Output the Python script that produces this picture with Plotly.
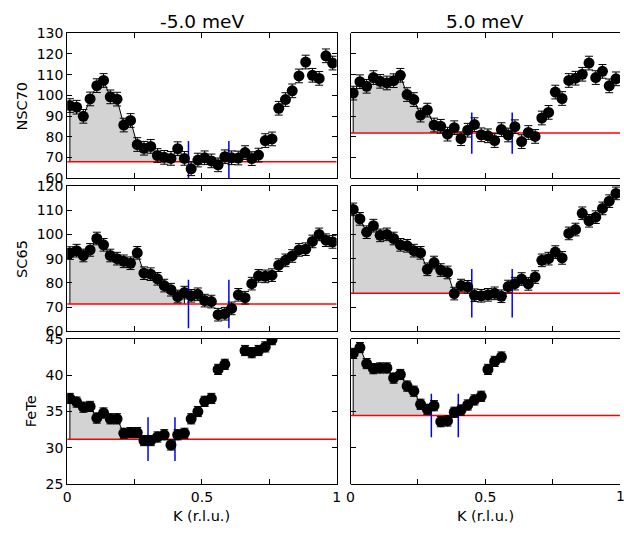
import plotly.graph_objects as go

# ---------------- data ----------------
K0 = 0.01
DK = 0.025

nsc70_m5 = [95.1, 94.3, 89.9, 98.3, 104.7, 107.2, 99.3, 98.2, 85.7, 87.9,
            76.3, 74.5, 75.4, 71.0, 70.1, 69.6, 74.3, 69.6, 64.6, 68.8,
            69.9, 68.4, 66.5, 70.4, 69.9, 69.8, 72.4, 69.5, 71.2, 78.2,
            79.0, 93.8, 98.0, 102.2, 109.4, 116.1, 109.7, 108.2, 119.1, 115.6]
nsc70_p5 = [101.1, 106.6, 104.4, 108.6, 106.8, 106.0, 107.1, 109.7, 100.4, 98.0,
            90.5, 92.9, 85.7, 85.1, 81.3, 84.4, 79.1, 83.2, 85.9, 81.0,
            80.5, 78.2, 83.5, 80.9, 84.9, 77.7, 82.1, 80.2, 89.1, 91.8,
            101.6, 98.5, 107.2, 108.3, 110.2, 115.6, 108.6, 111.6, 104.6, 108.0]
sc65_m5 = [92.3, 93.3, 91.3, 93.6, 98.3, 95.7, 91.3, 90.0, 88.9, 88.1,
           92.4, 84.0, 83.6, 81.7, 78.9, 77.2, 74.4, 76.0, 74.7, 75.3,
           72.7, 72.3, 66.9, 67.3, 69.5, 75.1, 73.9, 79.7, 82.9, 82.7,
           83.2, 87.3, 89.3, 91.1, 93.6, 93.9, 97.1, 100.0, 97.6, 96.9]
sc65_p5 = [110.3, 106.4, 100.9, 103.6, 99.6, 100.0, 98.3, 95.7, 95.3, 93.3,
           92.4, 85.6, 88.4, 85.3, 84.3, 75.6, 78.9, 78.4, 74.9, 74.7,
           75.1, 75.7, 74.5, 78.5, 79.7, 81.6, 79.6, 82.4, 89.3, 90.0,
           92.7, 90.3, 100.4, 102.0, 108.7, 105.6, 107.1, 110.7, 113.7, 116.9]
fete_m5 = [36.8, 36.3, 35.6, 35.7, 34.1, 34.8, 34.0, 34.0, 32.0, 32.1,
           32.1, 31.0, 31.0, 31.5, 31.8, 30.4, 31.8, 32.0, 34.0, 35.0,
           36.4, 36.8, 40.8, 41.5, None, None, 43.4, 43.1, 43.4, 43.9,
           44.9]
fete_p5 = [43.0, 43.8, 41.6, 40.9, 41.0, 41.0, 39.6, 40.1, 38.5, 37.8,
           36.0, 35.3, 35.8, 33.6, 33.7, 34.9, 35.2, 35.9, 36.6, 37.1,
           40.8, 41.9, 42.5]

errors = {"nsc70": 3.3, "sc65": 2.6, "fete": 0.7}

baselines = {("nsc70", 0): 68.0, ("nsc70", 1): 81.8,
             ("sc65", 0): 71.3, ("sc65", 1): 75.7,
             ("fete", 0): 31.2, ("fete", 1): 34.45}
blue_k = {"nsc70": [0.45, 0.6], "sc65": [0.45, 0.6], "fete": [0.3, 0.4]}
blue_half = {"nsc70": 10, "sc65": 10, "fete": 3}
fill_end = {"nsc70": 17, "sc65": 17, "fete": 11}

samples = ["nsc70", "sc65", "fete"]
sample_labels = ["NSC70", "SC65", "FeTe"]
energies = ["-5.0 meV", "5.0 meV"]
series = {("nsc70", 0): nsc70_m5, ("nsc70", 1): nsc70_p5,
          ("sc65", 0): sc65_m5, ("sc65", 1): sc65_p5,
          ("fete", 0): fete_m5, ("fete", 1): fete_p5}
yranges = {"nsc70": [60, 130], "sc65": [60, 120], "fete": [25, 45]}
ytickvals = {"nsc70": list(range(60, 131, 10)), "sc65": list(range(60, 121, 10)),
             "fete": list(range(25, 46, 5))}
xtickvals = [0, 0.25, 0.5, 0.75, 1]
xticktext = ["0", "", "0.5", "", "1"]

# ---------------- layout geometry ----------------
W, H = 624, 540
col_px = [(64, 337), (351, 624)]
row_px = [(26, 175.5), (183.3, 333.3), (341, 490.7)]

FONT = "DejaVu Sans"
fig = go.Figure()

def axname(r, c):
    n = r * 2 + c + 1
    return ("x" if n == 1 else f"x{n}"), ("y" if n == 1 else f"y{n}")

layout = {}
shapes = []
extra_y = 7
for r, s in enumerate(samples):
    for c in range(2):
        xa, ya = axname(r, c)
        n = r * 2 + c + 1
        xkey = "xaxis" if n == 1 else f"xaxis{n}"
        ykey = "yaxis" if n == 1 else f"yaxis{n}"
        x0, x1 = col_px[c]
        t, b = row_px[r]
        ydom = [1 - b / H, 1 - t / H]
        layout[xkey] = dict(domain=[x0 / W, x1 / W], range=[0, 1], anchor=ya,
                            tickvals=xtickvals, ticktext=xticktext,
                            ticks="inside", ticklen=5, tickcolor="black",
                            showline=True, linecolor="black", linewidth=1,
                            mirror="ticks", showgrid=False, zeroline=False,
                            showticklabels=(r == 2),
                            tickfont=dict(family=FONT, size=14, color="black"))
        if c == 0:
            layout[ykey] = dict(domain=ydom, range=yranges[s], anchor=xa,
                                tickvals=ytickvals[s],
                                ticks="inside", ticklen=5, tickcolor="black",
                                showline=True, linecolor="black", linewidth=1,
                                mirror="ticks", showgrid=False, zeroline=False,
                                showticklabels=True,
                                tickfont=dict(family=FONT, size=14, color="black"))
        else:
            # left ticks only; the right edge of the page cuts the frame
            layout[ykey] = dict(domain=ydom, range=yranges[s], anchor=xa,
                                tickvals=ytickvals[s],
                                ticks="inside", ticklen=5, tickcolor="black",
                                showline=False, mirror=False, showgrid=False,
                                zeroline=False, showticklabels=False)
            layout[f"yaxis{extra_y}"] = dict(domain=ydom, range=yranges[s], anchor=xa,
                                             overlaying=ya, side="right",
                                             tickvals=ytickvals[s],
                                             ticks="inside", ticklen=5, tickcolor="black",
                                             showline=False, showgrid=False,
                                             zeroline=False, showticklabels=False)
            extra_y += 1
            shapes.append(dict(type="line", xref=f"{xa} domain", yref=f"{ya} domain",
                               x0=0, x1=0, y0=0, y1=1, layer="above",
                               line=dict(color="black", width=1)))

        yv = series[(s, c)]
        kv = [K0 + DK * i for i in range(len(yv))]
        base = baselines[(s, c)]
        e = fill_end[s]
        # filled area between curve and baseline
        px_ = [kv[0]] + kv[:e + 1] + [kv[e]]
        py_ = [base] + yv[:e + 1] + [base]
        fig.add_trace(go.Scatter(x=px_, y=py_, mode="lines", fill="toself",
                                 fillcolor="#d3d3d3", line=dict(color="black", width=1),
                                 xaxis=xa, yaxis=ya, showlegend=False, hoverinfo="skip"))
        # red baseline
        fig.add_trace(go.Scatter(x=[0, 1], y=[base, base], mode="lines",
                                 line=dict(color="red", width=1.5),
                                 xaxis=xa, yaxis=ya, showlegend=False))
        # blue markers
        for kb in blue_k[s]:
            fig.add_trace(go.Scatter(x=[kb, kb], y=[base - blue_half[s], base + blue_half[s]],
                                     mode="lines", line=dict(color="blue", width=1.5),
                                     xaxis=xa, yaxis=ya, showlegend=False))
        # data points
        fig.add_trace(go.Scatter(x=kv, y=yv, mode="markers",
                                 marker=dict(color="black", size=11, line=dict(width=0)),
                                 error_y=dict(type="constant", value=errors[s],
                                              color="black", thickness=1, width=4),
                                 xaxis=xa, yaxis=ya, showlegend=False))

ann = []
for c, en in enumerate(energies):
    cx = (col_px[c][0] + col_px[c][1]) / 2
    ann.append(dict(text=en, x=cx / W, y=1 - 14 / H, xref="paper", yref="paper",
                    xanchor="center", yanchor="middle", showarrow=False,
                    font=dict(family=FONT, size=18.5, color="black")))
    ann.append(dict(text="K (r.l.u.)", x=cx / W, y=1 - 524 / H, xref="paper", yref="paper",
                    xanchor="center", yanchor="middle", showarrow=False,
                    font=dict(family=FONT, size=14.5, color="black")))
# right-most tick label, partly beyond the page edge as in the reference
ann.append(dict(text="1", x=1.0, y=1 - 490.7 / H, xref="paper", yref="paper",
                xanchor="center", yanchor="top", yshift=-2, showarrow=False,
                font=dict(family=FONT, size=14, color="black")))
ylab_x = [18, 17.5, 27]
for r, lab in enumerate(sample_labels):
    t, b = row_px[r]
    ann.append(dict(text=lab, x=ylab_x[r] / W, y=1 - ((t + b) / 2) / H,
                    xref="paper", yref="paper", xanchor="center", yanchor="middle",
                    textangle=-90, showarrow=False,
                    font=dict(family=FONT, size=14.5, color="black")))

fig.update_layout(width=W, height=H, margin=dict(l=0, r=0, t=0, b=0),
                  paper_bgcolor="white", plot_bgcolor="white",
                  annotations=ann, shapes=shapes, showlegend=False, **layout)
fig.write_html("out.html")
